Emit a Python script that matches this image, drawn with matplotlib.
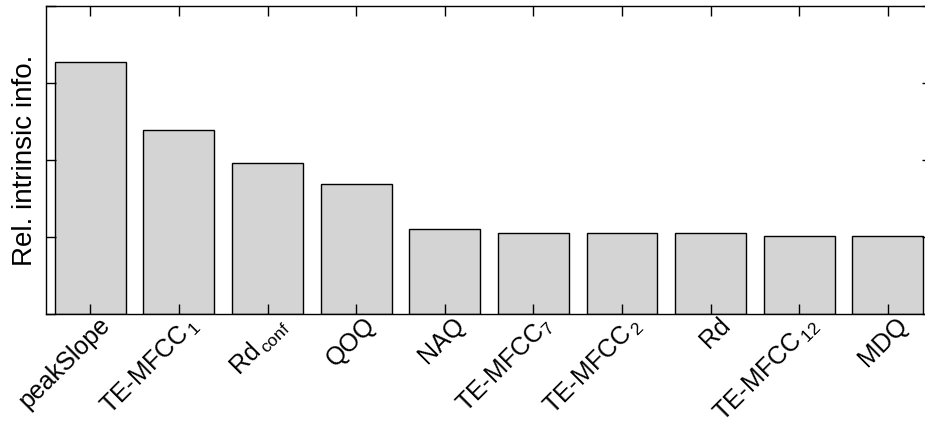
import matplotlib
matplotlib.use("Agg")
import matplotlib.pyplot as plt
import matplotlib.transforms as mtransforms

plt.rcParams['font.family'] = ['Liberation Sans', 'DejaVu Sans']
plt.rcParams['mathtext.default'] = 'regular'

# features ranked by relative intrinsic information
features = ['peakSlope', 'TE-MFCC$_{\\,1}$', 'Rd$_{\\,conf}$', 'QOQ', 'NAQ',
            'TE-MFCC$_{7}$', 'TE-MFCC$_{\\,2}$', 'Rd', 'TE-MFCC$_{\\,12}$', 'MDQ']
rel_info = [3.27, 2.39, 1.96, 1.69, 1.10, 1.055, 1.055, 1.055, 1.01, 1.01]
yticks = [0, 1, 2, 3, 4]

fig = plt.figure(figsize=(9.25, 4.23), dpi=100)
ax = fig.add_axes([0.0497, 0.2577, 0.958, 0.7281])

x = range(len(features))
ax.bar(x, rel_info, width=0.8, color='#d4d4d4', edgecolor='black', linewidth=1.0)

ax.set_xlim(-0.5, len(features) - 0.5)
ax.set_ylim(0, 4)
ax.set_yticks(yticks)
ax.set_yticklabels([])
ax.set_xticks(list(x))
ax.set_xticklabels(features, rotation=45, ha='right', va='center_baseline',
                   rotation_mode='anchor', fontsize=18)
ax.tick_params(direction='in', length=7, width=1, top=True, right=True)
ax.tick_params(axis='x', pad=4)
# nudge labels right, like the original
shift = mtransforms.ScaledTranslation(14 / 100, 0, fig.dpi_scale_trans)
for lab in ax.get_xticklabels():
    lab.set_transform(lab.get_transform() + shift)
for s in ax.spines.values():
    s.set_linewidth(1.0)

ax.set_ylabel('Rel. intrinsic info.', fontsize=20, labelpad=2)

fig.savefig('out.png', dpi=100)
